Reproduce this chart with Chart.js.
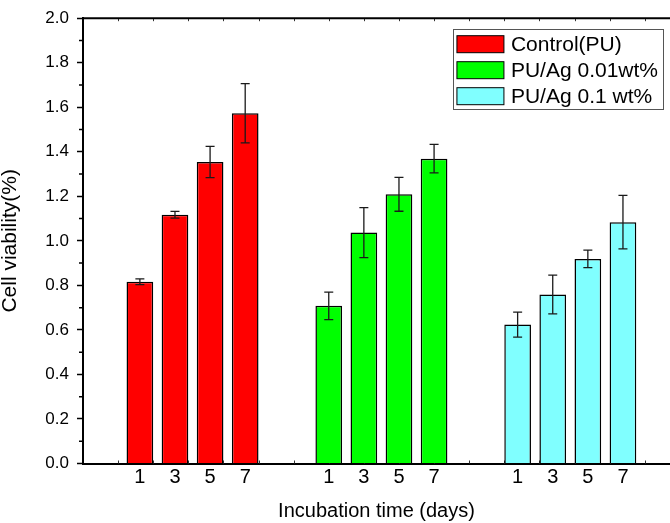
<!DOCTYPE html>
<html>
<head>
<meta charset="utf-8">
<script src="https://cdn.jsdelivr.net/npm/chart.js@4.4.1/dist/chart.umd.min.js"></script>
<style>
  html, body { margin: 0; padding: 0; background: #fff; overflow: hidden; }
</style>
</head>
<body>
<canvas id="viabilityChart" width="670" height="523"></canvas>
<script>
// incubation days under each group
const days = ['1', '3', '5', '7'];

const seriesNames = ['Control(PU)', 'PU/Ag 0.01wt%', 'PU/Ag 0.1 wt%'];
const seriesColors = ['#ff0000', '#00ff00', '#80ffff'];

// mean viability and standard deviation for each day
const controlPU = [0.816, 1.117, 1.354, 1.573];
const controlErr = [0.013, 0.015, 0.070, 0.133];
const puAg001 = [0.708, 1.037, 1.209, 1.369];
const puAg001Err = [0.062, 0.112, 0.076, 0.064];
const puAg01 = [0.624, 0.759, 0.919, 1.084];
const puAg01Err = [0.056, 0.087, 0.039, 0.120];

const seriesValues = [controlPU, puAg001, puAg01];
const seriesErrors = [controlErr, puAg001Err, puAg01Err];

// x axis is counted in bar slots, with a gap between the groups
const firstSlot = 1.62;
const groupGap = 2.38;
const xMax = 16.72;

function slotOf(group, i) {
    return firstSlot + group * (days.length - 1 + groupGap) + i;
}

const allSlots = [];
seriesValues.forEach((vals, g) => vals.forEach((v, i) => allSlots.push(slotOf(g, i))));

// error bars drawn on top of the bars
const errorBars = {
    id: 'errorBars',
    afterDatasetsDraw(chart) {
        const { ctx } = chart;
        const y = chart.scales.y;
        ctx.save();
        ctx.strokeStyle = '#1a1a1a';
        ctx.lineWidth = 1.3;
        seriesValues.forEach((vals, g) => {
            chart.getDatasetMeta(g).data.forEach((bar, i) => {
                const top = y.getPixelForValue(vals[i] + seriesErrors[g][i]);
                const bot = y.getPixelForValue(vals[i] - seriesErrors[g][i]);
                const cap = 4.5;
                ctx.beginPath();
                ctx.moveTo(bar.x, top); ctx.lineTo(bar.x, bot);
                ctx.moveTo(bar.x - cap, top); ctx.lineTo(bar.x + cap, top);
                ctx.moveTo(bar.x - cap, bot); ctx.lineTo(bar.x + cap, bot);
                ctx.stroke();
            });
        });
        ctx.restore();
    }
};

// top border, minor ticks and the legend box
const frame = {
    id: 'frame',
    beforeDatasetsDraw(chart) {
        const { ctx, chartArea: a } = chart;
        const x = chart.scales.x;
        ctx.save();
        ctx.strokeStyle = '#333';
        ctx.lineWidth = 1;
        ctx.beginPath();
        for (let s = 1; s < xMax; s++) {
            const px = Math.round(x.getPixelForValue(s)) + 0.5;
            ctx.moveTo(px, a.top); ctx.lineTo(px, a.top + 3);
            ctx.moveTo(px, a.bottom); ctx.lineTo(px, a.bottom - 3);
        }
        ctx.stroke();
        ctx.restore();
    },
    afterDraw(chart) {
        const { ctx, chartArea: a } = chart;
        const y = chart.scales.y;
        ctx.save();
        ctx.strokeStyle = '#000';
        ctx.lineWidth = 2;
        ctx.beginPath();
        ctx.moveTo(a.left - 1, a.top);
        ctx.lineTo(a.right, a.top);
        ctx.stroke();

        ctx.lineWidth = 1.5;
        ctx.beginPath();
        for (let k = 1; k < 20; k += 2) {
            const py = y.getPixelForValue(k / 10);
            ctx.moveTo(a.left - 4, py); ctx.lineTo(a.left, py);
        }
        ctx.stroke();

        // legend
        ctx.font = '21px Arial';
        ctx.textBaseline = 'middle';
        const textW = Math.max(...seriesNames.map(n => ctx.measureText(n).width));
        const swW = 47, swH = 17, rowH = 26;
        const boxW = 4 + swW + 7 + textW + 5;
        const boxH = seriesNames.length * rowH + 2;
        const bx = a.right - 7 - boxW;
        const by = a.top + 11;
        ctx.strokeStyle = '#555';
        ctx.lineWidth = 1;
        ctx.strokeRect(Math.round(bx) + 0.5, Math.round(by) + 0.5, Math.round(boxW), Math.round(boxH));
        seriesNames.forEach((name, g) => {
            const cy = by + 15 + g * rowH;
            ctx.fillStyle = seriesColors[g];
            ctx.fillRect(bx + 4, cy - swH / 2, swW, swH);
            ctx.strokeStyle = '#000';
            ctx.strokeRect(bx + 4, cy - swH / 2, swW, swH);
            ctx.fillStyle = '#000';
            ctx.fillText(name, bx + 4 + swW + 7, cy + 1);
        });
        ctx.restore();
    }
};

const ctx = document.getElementById('viabilityChart').getContext('2d');

new Chart(ctx, {
    type: 'bar',
    data: {
        datasets: seriesValues.map((vals, g) => ({
            label: seriesNames[g],
            data: vals.map((v, i) => ({ x: slotOf(g, i), y: v })),
            backgroundColor: seriesColors[g],
            borderColor: '#000',
            borderWidth: 1.5,
            grouped: false,
            barPercentage: 0.76,
            categoryPercentage: 1.0
        }))
    },
    options: {
        responsive: false,
        animation: false,
        layout: { padding: { top: 18, right: 0, bottom: 0, left: 0 } },
        plugins: {
            legend: { display: false },
            tooltip: { enabled: false }
        },
        scales: {
            x: {
                type: 'linear',
                min: 0,
                max: xMax,
                offset: false,
                grid: { display: false, drawTicks: false },
                border: { color: '#000', width: 2 },
                afterBuildTicks(scale) {
                    scale.ticks = allSlots.map(v => ({ value: v }));
                },
                ticks: {
                    autoSkip: false,
                    maxRotation: 0,
                    padding: 1.5,
                    color: '#000',
                    font: { family: 'Arial', size: 20 },
                    callback: (value, index) => days[index % days.length]
                },
                title: {
                    display: true,
                    text: 'Incubation time (days)',
                    color: '#000',
                    font: { family: 'Arial', size: 20 },
                    padding: { top: 8.5, bottom: 0 }
                }
            },
            y: {
                min: 0,
                max: 2,
                afterFit(scale) { scale.width = 83; },
                grid: {
                    drawOnChartArea: false,
                    tickLength: 6,
                    tickWidth: 1.5,
                    tickColor: '#000'
                },
                border: { color: '#000', width: 2 },
                ticks: {
                    stepSize: 0.2,
                    padding: 8,
                    color: '#000',
                    font: { family: 'Arial', size: 17 },
                    callback: v => v.toFixed(1)
                },
                title: {
                    display: true,
                    text: 'Cell viability(%)',
                    color: '#000',
                    font: { family: 'Arial', size: 21, lineHeight: 1 },
                    padding: 0
                }
            }
        }
    },
    plugins: [errorBars, frame]
});
</script>
</body>
</html>
